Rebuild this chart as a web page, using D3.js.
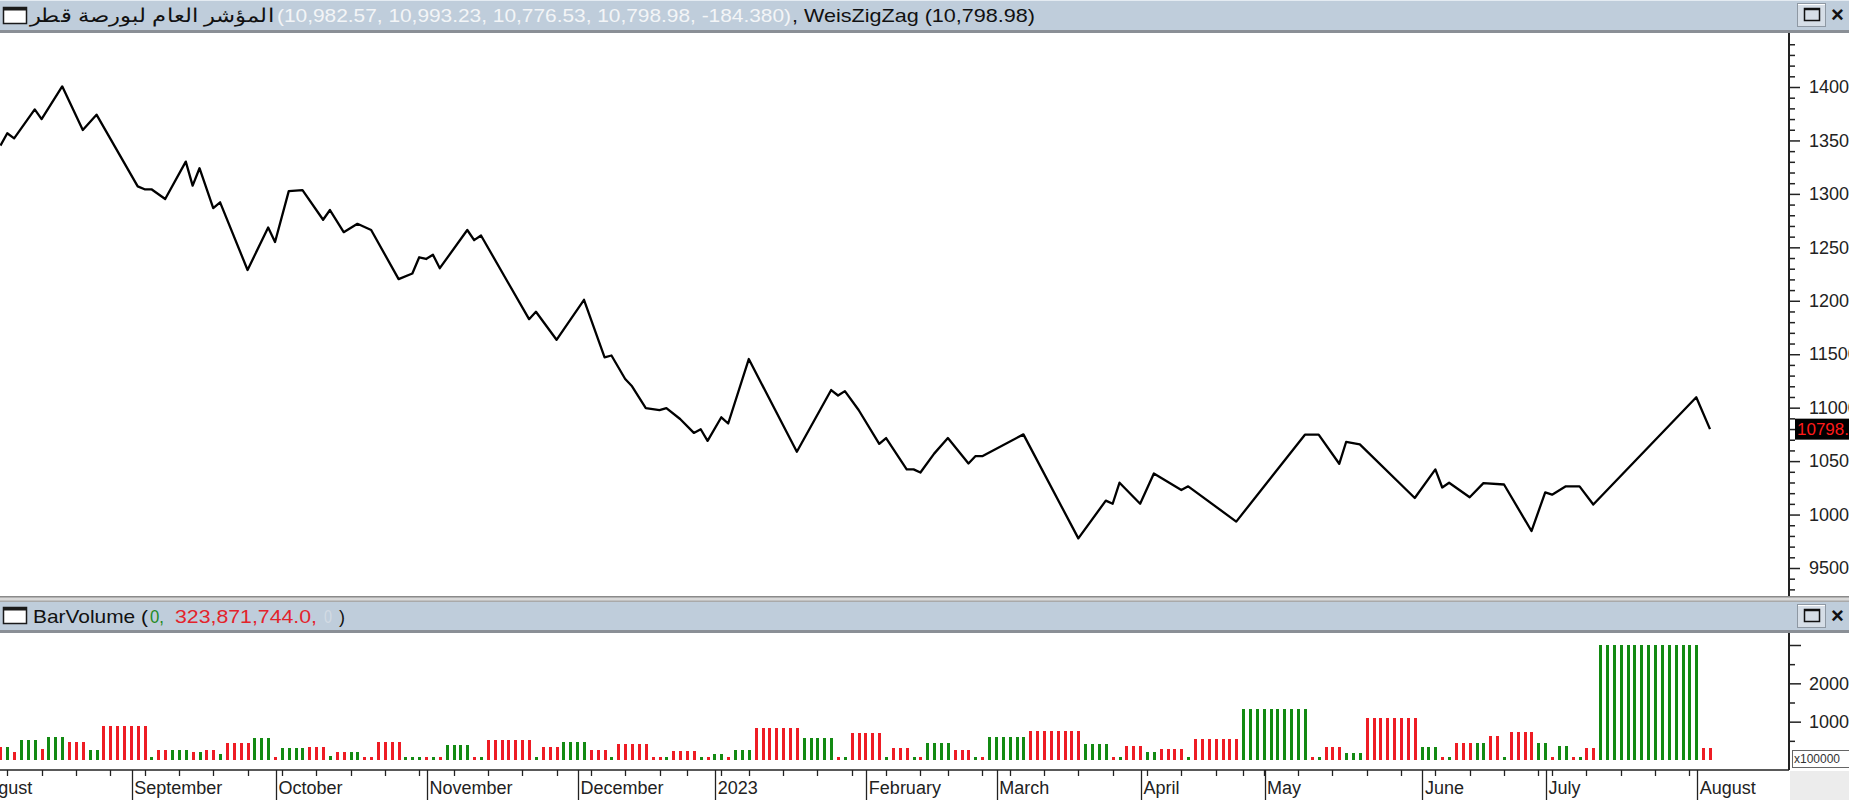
<!DOCTYPE html>
<html><head><meta charset="utf-8">
<script src="https://cdn.jsdelivr.net/npm/d3@7"></script>
<style>
body{margin:0;background:#fff;overflow:hidden}
svg{display:block}
text{font-family:"Liberation Sans",Arial,sans-serif}
</style></head><body>
<svg id="c" width="1849" height="800"></svg>
<script>
// ---------------- DATA ----------------
// WeisZigZag vertices: bar index and index level
const zzIndex = [0,1,2,5,6,9,12,14,20,21,22,24,27,28,29,31,32,36,39,40,42,44,47,48,50,52,54,58,60,61,62,63,64,68,69,70,77,78,81,85,88,89,91,92,94,96,97,99,101,102,103,105,106,109,116,121,122,123,125,128,129,132,133,134,136,138,141,142,143,149,157,161,162,163,166,168,172,173,180,190,192,195,196,198,206,209,210,211,214,216,219,223,225,226,228,230,232,247,249];
const zzValue = [13452,13567,13520,13791,13700,14006,13598,13741,13070,13043,13043,12952,13302,13077,13240,12867,12921,12288,12686,12550,13026,13036,12758,12849,12642,12720,12662,12203,12255,12407,12391,12431,12305,12662,12567,12611,11828,11897,11635,12009,11471,11488,11268,11200,10995,10978,10995,10894,10764,10798,10690,10910,10852,11455,10587,11165,11114,11155,10978,10662,10716,10423,10423,10393,10570,10716,10478,10546,10546,10750,9777,10130,10101,10298,10101,10384,10230,10264,9934,10747,10747,10475,10679,10656,10155,10423,10253,10298,10162,10294,10281,9846,10207,10186,10264,10264,10094,11097,10798.98];

// BarVolume runs: last bar index of each run, wave volume (x100000), up(1)/down(0)
const volRunEnd   = [0,1,2,5,6,9,12,14,21,22,24,27,28,29,31,32,36,39,40,44,47,48,50,52,54,58,61,62,63,64,68,69,70,77,78,81,85,88,89,94,96,97,101,102,103,105,106,109,116,121,122,123,128,129,132,133,134,138,141,142,143,149,157,161,162,163,166,168,172,173,180,190,191,192,195,198,206,209,210,211,214,216,218,219,223,225,226,228,229,230,232,247,249];
const volRunValue = [3500,3500,2000,5220,3000,6090,4780,2610,8870,800,2500,2600,2000,2000,2600,1500,4350,5830,800,3200,3480,1000,2000,2000,900,4780,800,800,800,800,3910,800,800,5220,800,3480,4780,2610,800,4170,800,800,2350,800,800,1500,800,2600,8260,5830,800,800,6960,800,3040,800,800,4520,2610,800,800,6090,7650,4170,800,800,3740,2170,2960,800,5390,13230,800,800,3460,1700,10900,3460,800,800,4320,4500,6220,800,7260,4500,800,3720,800,800,3030,30000,3238.7];
const volRunUp    = [0,1,0,1,0,1,0,1,0,1,0,1,0,1,0,1,0,1,0,1,0,1,0,1,0,0,1,0,1,0,1,0,1,0,1,0,1,0,1,0,0,1,0,1,0,1,0,1,0,1,0,1,0,1,0,1,0,1,0,1,0,1,0,1,0,1,0,1,0,1,0,1,0,1,0,1,0,1,0,1,0,1,0,1,0,1,0,1,0,1,0,1,0];

const monthLabels = ["August","September","October","November","December","2023","February","March","April","May","June","July","August"];
const monthStart  = [-3,20,41,63,85,105,127,146,167,185,208,226,248];
const weekTicks   = [1,6,11,16,21,26,31,36,41,46,51,56,61,66,71,76,81,86,91,96,100,105,109,114,119,124,129,134,138,143,147,152,157,162,167,172,177,181,184,189,194,199,204,209,214,219,224,226,231,236,241,246];

const priceMajor = [9500,10000,10500,11000,11500,12000,12500,13000,13500,14000];
const volMajor = [10000,20000,30000];
const volMajorLabels = ["10000","20000",""];
const volMinor = [5000,15000,25000];

const title1Arabic = "المؤشر العام لبورصة قطر";
const title1Values = "(10,982.57, 10,993.23, 10,776.53, 10,798.98, -184.380)";
const title1Ind = ", WeisZigZag (10,798.98)";
const lastClose = 10798.98;

// ---------------- LAYOUT ----------------
const W = 1849, H = 800;
const axisX = 1789;
const top1 = 33, bot1 = 596;
const top2 = 633, bot2 = 770;
const svg = d3.select("#c");

const x = d3.scaleLinear().domain([0, 249]).range([0.4, 1710]);
const yP = d3.scaleLinear().domain([9500, 14000]).range([568, 87]);
const yV = d3.scaleLinear().domain([0, 30000]).range([760, 645]);

const barBg = "#bfcddb";
svg.append("rect").attr("x",0).attr("y",0).attr("width",W).attr("height",H).attr("fill","#fff");
// title bar 1
svg.append("rect").attr("x",0).attr("y",0).attr("width",W).attr("height",30).attr("fill",barBg);
svg.append("rect").attr("x",0).attr("y",0).attr("width",W).attr("height",1).attr("fill","#e4ebf2");
svg.append("rect").attr("x",0).attr("y",30).attr("width",W).attr("height",3).attr("fill","#8a8f96");
// separator between panels
svg.append("rect").attr("x",0).attr("y",bot1).attr("width",W).attr("height",6).attr("fill","#d9d9d9");
svg.append("rect").attr("x",0).attr("y",bot1).attr("width",W).attr("height",1.5).attr("fill","#8a8a8a");
svg.append("rect").attr("x",0).attr("y",bot1+4.5).attr("width",W).attr("height",1.5).attr("fill","#a9a9a9");
// title bar 2
svg.append("rect").attr("x",0).attr("y",602).attr("width",W).attr("height",28).attr("fill",barBg);
svg.append("rect").attr("x",0).attr("y",630).attr("width",W).attr("height",3).attr("fill","#8a8f96");
// bottom right corner
svg.append("rect").attr("x",axisX+1).attr("y",bot2+1).attr("width",W-axisX).attr("height",H-bot2).attr("fill","#ececec");

// window icons
function winIcon(y){
  const g = svg.append("g");
  g.append("rect").attr("x",3.5).attr("y",y+0.5).attr("width",23).attr("height",16).attr("fill","#fff").attr("stroke","#1a1a1a").attr("stroke-width",1.5);
  g.append("rect").attr("x",3.5).attr("y",y+0.5).attr("width",23).attr("height",3).attr("fill","#1a1a1a");
}
winIcon(7); winIcon(607);
function buttons(y){
  const g = svg.append("g");
  g.append("rect").attr("x",1797.5).attr("y",y+0.5).attr("width",28).attr("height",23).attr("fill","#d6dee7").attr("stroke","#8e98a3");
  g.append("line").attr("x1",1798).attr("x2",1825).attr("y1",y+1.5).attr("y2",y+1.5).attr("stroke","#fff");
  g.append("rect").attr("x",1804.5).attr("y",y+5.5).attr("width",15).attr("height",12).attr("fill","none").attr("stroke","#111").attr("stroke-width",1.5);
  g.append("line").attr("x1",1804.5).attr("x2",1819.5).attr("y1",y+6.5).attr("y2",y+6.5).attr("stroke","#111").attr("stroke-width",1.5);
  g.append("text").attr("x",1831).attr("y",y+19).attr("font-size",22).attr("font-weight","bold").attr("fill","#111").text("×");
}
buttons(3); buttons(604);

// title 1 texts
svg.append("text").attr("x",151.5).attr("y",22).attr("text-anchor","middle")
  .attr("font-family","'DejaVu Sans',sans-serif").attr("font-size",19).attr("fill","#111")
  .attr("textLength",244).attr("lengthAdjust","spacingAndGlyphs").text(title1Arabic);
svg.append("text").attr("x",277).attr("y",22).attr("font-family","'Open Sans','Noto Sans',sans-serif")
  .attr("font-size",19).attr("fill","#f3f5f7").attr("textLength",514).attr("lengthAdjust","spacingAndGlyphs").text(title1Values);
svg.append("text").attr("x",792).attr("y",22).attr("font-family","'Open Sans','Noto Sans',sans-serif")
  .attr("font-size",19).attr("fill","#111").attr("textLength",243).attr("lengthAdjust","spacingAndGlyphs").text(title1Ind);

// title 2 texts
const t2 = [
  {t:"BarVolume (", x:33, w:115, c:"#111"},
  {t:"0,", x:150, w:14, c:"#1f8a1f"},
  {t:"323,871,744.0,", x:175, w:142, c:"#e3232b"},
  {t:"0", x:324, w:8, c:"#d3dbe4"},
  {t:")", x:339, w:6, c:"#111"}
];
t2.forEach(d=>{
  svg.append("text").attr("x",d.x).attr("y",623).attr("font-family","'Open Sans','Noto Sans',sans-serif")
    .attr("font-size",19).attr("fill",d.c).attr("textLength",d.w).attr("lengthAdjust","spacingAndGlyphs").text(d.t);
});

// ---------------- PRICE PANEL ----------------
const pts = zzIndex.map((d,k)=>({i:d, v:zzValue[k]}));
const line = d3.line().x(d=>x(d.i)).y(d=>yP(d.v));
svg.append("path").datum(pts).attr("d",line).attr("fill","none").attr("stroke","#000")
  .attr("stroke-width",2.3).attr("stroke-linejoin","round");

const priceMinor = d3.range(9300, 14401, 100).filter(v=>v%500!==0);
const gP = svg.append("g").attr("transform",`translate(${axisX},0)`);
gP.call(d3.axisRight(yP).tickValues(priceMinor).tickSize(6).tickFormat(""));
gP.call(g=>g.select(".domain").remove());
const gP2 = svg.append("g").attr("transform",`translate(${axisX},0)`);
gP2.call(d3.axisRight(yP).tickValues(priceMajor).tickSize(11).tickPadding(9).tickFormat(d3.format("d")));
gP2.call(g=>g.select(".domain").remove());
[gP,gP2].forEach(g=>{ g.selectAll("line").attr("stroke","#222").attr("stroke-width",1.5);
  g.selectAll("text").attr("font-size",18).attr("fill","#222").attr("font-family","'Liberation Sans',Arial,sans-serif"); });
svg.append("line").attr("x1",axisX).attr("x2",axisX).attr("y1",top1).attr("y2",bot1).attr("stroke","#222").attr("stroke-width",2);

// last value marker
const ly = yP(lastClose);
svg.append("rect").attr("x",1795).attr("y",ly-10.5).attr("width",60).attr("height",21).attr("fill","#000");
svg.append("text").attr("x",1797).attr("y",ly+6).attr("font-size",17).attr("fill","#ff1a1a").text("10798.98");

// ---------------- VOLUME PANEL ----------------
const bars = [];
let s = 0;
volRunEnd.forEach((e,k)=>{ for(let i=s;i<=e;i++) bars.push({i, v:volRunValue[k], up:volRunUp[k]}); s = e+1; });
svg.append("g").selectAll("rect").data(bars).join("rect")
  .attr("x",d=>Math.round(x(d.i))-1).attr("width",3)
  .attr("y",d=>yV(d.v)).attr("height",d=>yV(0)-yV(d.v))
  .attr("fill",d=>d.up?"#138a13":"#ee1c24").attr("shape-rendering","crispEdges");

const gV = svg.append("g").attr("transform",`translate(${axisX},0)`);
gV.call(d3.axisRight(yV).tickValues(volMinor).tickSize(6).tickFormat(""));
gV.call(g=>g.select(".domain").remove());
const gV2 = svg.append("g").attr("transform",`translate(${axisX},0)`);
gV2.call(d3.axisRight(yV).tickValues(volMajor).tickSize(12).tickPadding(8).tickFormat((d,k)=>volMajorLabels[k]));
gV2.call(g=>g.select(".domain").remove());
[gV,gV2].forEach(g=>{ g.selectAll("line").attr("stroke","#222").attr("stroke-width",1.5);
  g.selectAll("text").attr("font-size",18).attr("fill","#222").attr("font-family","'Liberation Sans',Arial,sans-serif"); });
svg.append("line").attr("x1",axisX).attr("x2",axisX).attr("y1",top2).attr("y2",bot2).attr("stroke","#222").attr("stroke-width",2);
svg.append("rect").attr("x",1792.5).attr("y",750.5).attr("width",60).attr("height",17).attr("fill","#fff").attr("stroke","#666");
svg.append("text").attr("x",1794).attr("y",763).attr("font-size",12).attr("fill","#333").text("x100000");

// ---------------- DATE AXIS ----------------
svg.append("line").attr("x1",0).attr("x2",axisX).attr("y1",bot2).attr("y2",bot2).attr("stroke","#222").attr("stroke-width",1.5);
svg.append("g").selectAll("line").data(weekTicks).join("line")
  .attr("x1",d=>Math.round(x(d))+0.5).attr("x2",d=>Math.round(x(d))+0.5)
  .attr("y1",bot2).attr("y2",bot2+6).attr("stroke","#222").attr("stroke-width",1.3);
const months = monthLabels.map((m,k)=>({m, i:monthStart[k]}));
svg.append("g").selectAll("line").data(months).join("line")
  .attr("x1",d=>Math.round(x(d.i)-6)+0.5).attr("x2",d=>Math.round(x(d.i)-6)+0.5)
  .attr("y1",bot2).attr("y2",H).attr("stroke","#222").attr("stroke-width",1.3);
svg.append("g").selectAll("text").data(months).join("text")
  .attr("x",d=>x(d.i)-3.5).attr("y",794).attr("font-size",18).attr("fill","#222").text(d=>d.m);
</script>
</body></html>
